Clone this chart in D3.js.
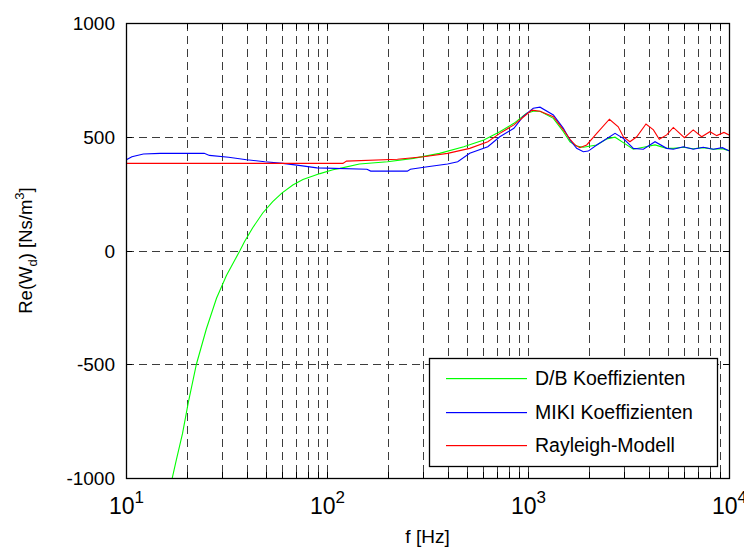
<!DOCTYPE html>
<html>
<head>
<meta charset="utf-8">
<script src="https://cdn.jsdelivr.net/npm/d3@7"></script>
<style>
  body { margin: 0; background: #fff; }
  svg { display: block; font-family: "Liberation Sans", Arial, sans-serif; }
</style>
</head>
<body>
<div id="chart"></div>
<script>
// frequencies (Hz) and Re(Wd) values
const db_freq = [16.5, 17.8, 19.1, 20.4, 22.4, 25.1, 28.2, 31.6, 36.9, 38.9, 42.7, 47.9, 53.7, 59.6, 67.6, 75.9, 92.3, 107, 116, 145, 200, 269, 363, 479, 603, 724, 851, 984, 1062, 1148, 1337, 1500, 1618, 1746, 1884, 2198, 2460, 2710, 2979, 3342, 3750, 4285, 4898, 5284, 5929, 6637, 7447, 8356, 9268, 10000];
const db_vals = [-1050, -920, -805, -670, -500, -345, -210, -110, 0, 40, 100, 165, 215, 252, 288, 312, 338, 355, 361, 380, 390, 405, 427, 456, 486, 522, 559, 603, 612, 612, 581, 522, 478, 459, 454, 464, 490, 498, 474, 445, 454, 464, 449, 449, 454, 447, 452, 445, 447, 439];

const miki_freq = [10, 10.7, 12.2, 14.8, 24.5, 26, 32.4, 39.8, 49, 60.3, 72.4, 89.1, 158, 165, 251, 260, 316, 398, 447, 513, 631, 724, 851, 944, 1062, 1148, 1337, 1500, 1618, 1746, 1884, 1995, 2198, 2710, 2979, 3342, 3750, 4285, 4898, 5284, 5929, 6637, 7447, 8356, 9268, 10000];
const miki_vals = [398, 412, 424, 427, 427, 418, 410, 399, 390, 383, 374, 363, 357, 349, 349, 357, 368, 380, 390, 427, 456, 500, 537, 588, 625, 630, 596, 537, 486, 449, 434, 437, 464, 515, 493, 449, 445, 478, 449, 445, 456, 445, 454, 445, 452, 438];

const ray_freq = [10, 120, 125, 224, 302, 398, 513, 631, 724, 851, 989, 1047, 1148, 1337, 1500, 1618, 1714, 1811, 1959, 2198, 2541, 2812, 2979, 3214, 3475, 3864, 4207, 4498, 4898, 5284, 5998, 6637, 7311, 8035, 8690, 9441, 10000];
const ray_vals = [383, 383, 393, 401, 412, 427, 449, 478, 515, 552, 600, 617, 612, 588, 530, 489, 464, 452, 464, 515, 577, 544, 500, 478, 500, 556, 530, 489, 508, 541, 496, 530, 500, 522, 505, 519, 508];

const series_names = ["D/B Koeffizienten", "MIKI Koeffizienten", "Rayleigh-Modell"];
const series_colors = ["#00ff00", "#0000ff", "#ff0000"];

const x_major = [10, 100, 1000, 10000];
const x_exponents = ["1", "2", "3", "4"];
const y_ticks = [-1000, -500, 0, 500, 1000];

const width = 744, height = 548;
const plot_left = 126, plot_right = 729, plot_top = 23, plot_bottom = 478;

const svg = d3.select("#chart").append("svg")
    .attr("width", width)
    .attr("height", height);

const x = d3.scaleLog().domain([10, 10000]).range([plot_left, plot_right]);
const y = d3.scaleLinear().domain([-1000, 1000]).range([plot_bottom, plot_top]);

// minor positions: 2..9 times each decade
let x_minor = [];
for (let d = 0; d < 3; d++)
{
    for (let k = 2; k <= 9; k++) x_minor.push(x_major[d] * k);
}
const x_grid = x_major.slice(1, 3).concat(x_minor);

// grid
const grid = svg.append("g")
    .attr("stroke", "#3c3c3c")
    .attr("stroke-width", 1)
    .attr("stroke-dasharray", "8,5");

grid.selectAll("line.v")
    .data(x_grid)
    .enter().append("line")
    .attr("class", "v")
    .attr("x1", d => Math.round(x(d)) + 0.5)
    .attr("x2", d => Math.round(x(d)) + 0.5)
    .attr("y1", plot_top)
    .attr("y2", plot_bottom);

grid.selectAll("line.h")
    .data(y_ticks.slice(1, 4))
    .enter().append("line")
    .attr("class", "h")
    .attr("x1", plot_left)
    .attr("x2", plot_right)
    .attr("y1", d => Math.round(y(d)) + 0.5)
    .attr("y2", d => Math.round(y(d)) + 0.5);

// ticks on all four sides, pointing inwards
const ticks = svg.append("g").attr("stroke", "#000").attr("stroke-width", 1);
const all_x = x_major.concat(x_minor);
all_x.forEach(d => {
    const px = Math.round(x(d)) + 0.5;
    const len = 6;
    ticks.append("line").attr("x1", px).attr("x2", px).attr("y1", plot_bottom).attr("y2", plot_bottom - len);
    ticks.append("line").attr("x1", px).attr("x2", px).attr("y1", plot_top).attr("y2", plot_top + len);
});
y_ticks.forEach(d => {
    const py = Math.round(y(d)) + 0.5;
    ticks.append("line").attr("x1", plot_left).attr("x2", plot_left + 6).attr("y1", py).attr("y2", py);
    ticks.append("line").attr("x1", plot_right).attr("x2", plot_right - 6).attr("y1", py).attr("y2", py);
});

// data lines
const line = d3.line()
    .x(d => x(d[0]))
    .y(d => y(d[1]));

svg.append("clipPath").attr("id", "clip")
    .append("rect")
    .attr("x", plot_left).attr("y", plot_top)
    .attr("width", plot_right - plot_left).attr("height", plot_bottom - plot_top);

const all_series = [
    d3.zip(db_freq, db_vals),
    d3.zip(miki_freq, miki_vals),
    d3.zip(ray_freq, ray_vals)
];

const plot = svg.append("g").attr("clip-path", "url(#clip)");
all_series.forEach((s, i) => {
    plot.append("path")
        .datum(s)
        .attr("fill", "none")
        .attr("stroke", series_colors[i])
        .attr("stroke-width", 1.1)
        .attr("d", line);
});

// axes box
svg.append("rect")
    .attr("x", plot_left + 0.5).attr("y", plot_top + 0.5)
    .attr("width", plot_right - plot_left).attr("height", plot_bottom - plot_top)
    .attr("fill", "none")
    .attr("stroke", "#000")
    .attr("stroke-width", 1.3);

// y tick labels
svg.append("g").selectAll("text")
    .data(y_ticks)
    .enter().append("text")
    .attr("x", plot_left - 11)
    .attr("y", d => y(d) + 7)
    .attr("text-anchor", "end")
    .attr("font-size", 19)
    .attr("fill", "#000")
    .text(d => d);

// x tick labels 10^n (the last one runs off the right edge, as in the original)
x_major.forEach((d, i) => {
    const t = svg.append("text")
        .attr("x", x(d) - 17)
        .attr("y", 514)
        .attr("font-size", 23)
        .attr("fill", "#000");
    t.append("tspan").text("10");
    t.append("tspan")
        .attr("dy", -11)
        .attr("font-size", 17)
        .text(x_exponents[i]);
});

// axis titles
svg.append("text")
    .attr("x", (plot_left + plot_right) / 2)
    .attr("y", 543)
    .attr("text-anchor", "middle")
    .attr("font-size", 19)
    .text("f [Hz]");

const ylab = svg.append("text")
    .attr("transform", "translate(32," + ((plot_top + plot_bottom) / 2) + ") rotate(-90)")
    .attr("text-anchor", "middle")
    .attr("font-size", 18.5);
ylab.append("tspan").text("Re(W");
ylab.append("tspan").attr("dy", 5).attr("font-size", 13).text("d");
ylab.append("tspan").attr("dy", -5).text(") [Ns/m");
ylab.append("tspan").attr("dy", -8).attr("font-size", 13).text("3");
ylab.append("tspan").attr("dy", 8).text("]");

// legend
const legend = svg.append("g");
legend.append("rect")
    .attr("x", 429.5).attr("y", 358.5)
    .attr("width", 288).attr("height", 108)
    .attr("fill", "#fff")
    .attr("stroke", "#000")
    .attr("stroke-width", 1.3);

const leg_rows = [378, 412, 445];
series_names.forEach((name, i) => {
    legend.append("rect")
        .attr("x", 446).attr("y", leg_rows[i])
        .attr("width", 81).attr("height", 1.2)
        .attr("fill", series_colors[i]);
    legend.append("text")
        .attr("x", 535)
        .attr("y", leg_rows[i] + 7)
        .attr("font-size", 19.5)
        .attr("fill", "#000")
        .text(name);
});
</script>
</body>
</html>
